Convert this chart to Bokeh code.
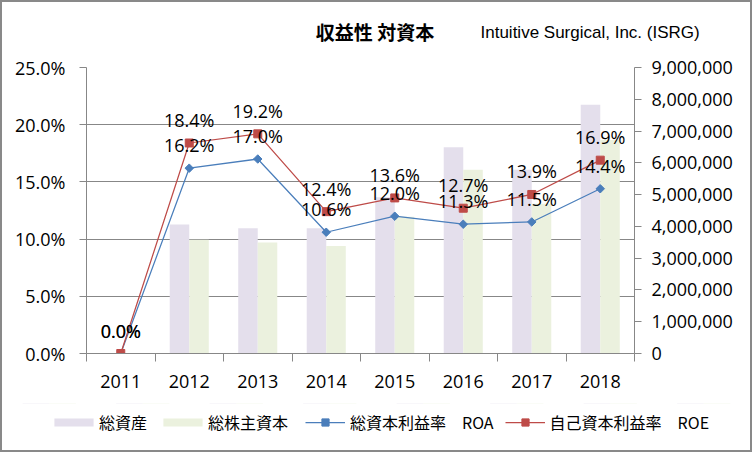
from bokeh.plotting import figure
from bokeh.models import (Range1d, LinearAxis, FixedTicker, SingleIntervalTicker,
                          NumeralTickFormatter, Legend, LegendItem, ColumnDataSource, Grid)
from bokeh.layouts import column
from bokeh.embed import file_html
from bokeh.resources import INLINE
from bokeh.core.properties import value
import math

# ---- data ----
years = ["2011", "2012", "2013", "2014", "2015", "2016", "2017", "2018"]
total_assets = [0, 4060000, 3940000, 3940000, 4920000, 6490000, 5780000, 7830000]
equity = [0, 3580000, 3490000, 3380000, 4300000, 5780000, 4710000, 6720000]
roa = [0.000, 0.162, 0.170, 0.106, 0.120, 0.113, 0.115, 0.144]
roe = [0.000, 0.184, 0.192, 0.124, 0.136, 0.127, 0.139, 0.169]
title_text = "収益性 対資本"
company_text = "Intuitive Surgical, Inc. (ISRG)"
series_names = ["総資産", "総株主資本", "総資本利益率　ROA", "自己資本利益率　ROE"]

idx = list(range(len(years)))
bar_w = 0.285

src = ColumnDataSource(dict(
    x=idx,
    xa=[i - bar_w / 2 for i in idx],
    xe=[i + bar_w / 2 for i in idx],
    assets=total_assets, equity=equity,
    roa=roa, roe=roe,
    roa_t=["%.1f%%" % (v * 100) for v in roa],
    roe_t=["%.1f%%" % (v * 100) for v in roe],
))

GRAY = "#878787"
NUM_FONT = "Open Sans"
JP_FONT = "Noto Sans CJK JP"
LAV = "#E4DFEC"
GRN = "#EBF1DE"
BLUE = "#4A7EBB"
RED = "#BE4B48"
W = 748

# ---- header ----
hdr = figure(width=W, height=48, output_backend="svg", toolbar_location=None,
             x_range=Range1d(0, W), y_range=Range1d(48, 0), frame_align=False,
             min_border=0, x_axis_type=None, y_axis_type=None)
hdr.outline_line_color = None
hdr.grid.visible = False
hdr.text(x=[372.5], y=[29], text=[title_text], text_font=value(JP_FONT), text_font_size="19px",
         text_font_style="bold", text_align="center", text_baseline="middle", text_color="#000000")
hdr.text(x=[478], y=[30], text=[company_text], text_font=value("Liberation Sans"),
         text_font_size="17px", text_align="left", text_baseline="middle", text_color="#000000")

# ---- main chart ----
p = figure(output_backend="svg", toolbar_location=None, frame_align=False,
           x_range=Range1d(-0.5, len(years) - 0.5), y_range=Range1d(0, 0.25),
           frame_width=548, frame_height=286,
           min_border_left=84, min_border_right=116, min_border_top=17, min_border_bottom=50,
           x_axis_type=None, y_axis_type=None)
p.outline_line_color = None
p.extra_y_ranges = {"amt": Range1d(0, 9000000)}

yl = LinearAxis(ticker=SingleIntervalTicker(interval=0.05, num_minor_ticks=0),
                formatter=NumeralTickFormatter(format="0.0%"))
yr = LinearAxis(y_range_name="amt", ticker=SingleIntervalTicker(interval=1000000, num_minor_ticks=0),
                formatter=NumeralTickFormatter(format="0,0"))
xb = LinearAxis(ticker=FixedTicker(ticks=idx, minor_ticks=[i - 0.5 for i in idx] + [len(years) - 0.5]),
                major_label_overrides={i: y for i, y in zip(idx, years)})
for ax in (yl, yr, xb):
    ax.axis_line_color = GRAY
    ax.major_tick_line_color = GRAY
    ax.minor_tick_line_color = GRAY
    ax.major_tick_in = 0
    ax.minor_tick_in = 0
    ax.major_label_text_font = NUM_FONT
    ax.major_label_text_font_size = "18px"
    ax.major_label_text_color = "#000000"
yl.major_tick_out = 7
yl.major_label_standoff = 14
yl.minor_tick_line_color = None
yr.major_tick_out = 7
yr.major_label_standoff = 10
yr.minor_tick_line_color = None
xb.major_tick_line_color = None
xb.minor_tick_out = 8
xb.major_label_standoff = 13
p.add_layout(yl, "left")
p.add_layout(yr, "right")
p.add_layout(xb, "below")
p.add_layout(Grid(dimension=1, ticker=yl.ticker, grid_line_color=GRAY, grid_line_width=1))


def draw_series(fig, y2):
    a = fig.vbar(x="xa", top="assets", width=bar_w, source=src, y_range_name=y2,
                 fill_color=LAV, line_color=None)
    e = fig.vbar(x="xe", top="equity", width=bar_w, source=src, y_range_name=y2,
                 fill_color=GRN, line_color=None)
    l1 = fig.line("x", "roa", source=src, line_color=BLUE, line_width=1.25)
    m1 = fig.scatter("x", "roa", source=src, marker="square", angle=math.pi / 4, size=6,
                     fill_color=BLUE, line_color=BLUE)
    l2 = fig.line("x", "roe", source=src, line_color=RED, line_width=1.25)
    m2 = fig.scatter("x", "roe", source=src, marker="square", size=8, fill_color=RED, line_color=RED)
    return a, e, l1, m1, l2, m2


draw_series(p, "amt")

for col, tcol in (("roa", "roa_t"), ("roe", "roe_t")):
    p.text("x", col, text=tcol, source=src, y_offset=-23,
           text_font=value(NUM_FONT), text_font_size="18px", text_color="#000000",
           text_align="center", text_baseline="middle")

# ---- footer legend (same series, drawn outside the footer's visible ranges) ----
ftr = figure(width=W, height=47, output_backend="svg", toolbar_location=None, frame_align=False,
             x_range=Range1d(-0.5, len(years) - 0.5), y_range=Range1d(-2, -1),
             min_border=0, x_axis_type=None, y_axis_type=None)
ftr.outline_line_color = None
ftr.grid.visible = False
ftr.extra_y_ranges = {"amt": Range1d(-2, -1)}
r_a, r_e, r_la, r_ma, r_le, r_me = draw_series(ftr, "amt")

common = dict(orientation="horizontal", label_text_font=JP_FONT, label_text_font_size="16px",
              label_text_color="#000000", border_line_color=None, background_fill_alpha=0,
              padding=0, margin=0)
leg_a = Legend(items=[LegendItem(label=series_names[0], renderers=[r_a]),
                      LegendItem(label=series_names[1], renderers=[r_e])],
               location=(47, 16), glyph_width=49, glyph_height=10, label_standoff=1,
               spacing=11, **common)
leg_b = Legend(items=[LegendItem(label=series_names[2], renderers=[r_la, r_ma]),
                      LegendItem(label=series_names[3], renderers=[r_le, r_me])],
               location=(303, 16), glyph_width=40, glyph_height=18, label_standoff=5,
               spacing=11, **common)
ftr.add_layout(leg_a, "center")
ftr.add_layout(leg_b, "center")

page = column(hdr, p, ftr, spacing=0, styles={"border": "2px solid #898989"})

open("out.html", "w").write(file_html(page, INLINE))
